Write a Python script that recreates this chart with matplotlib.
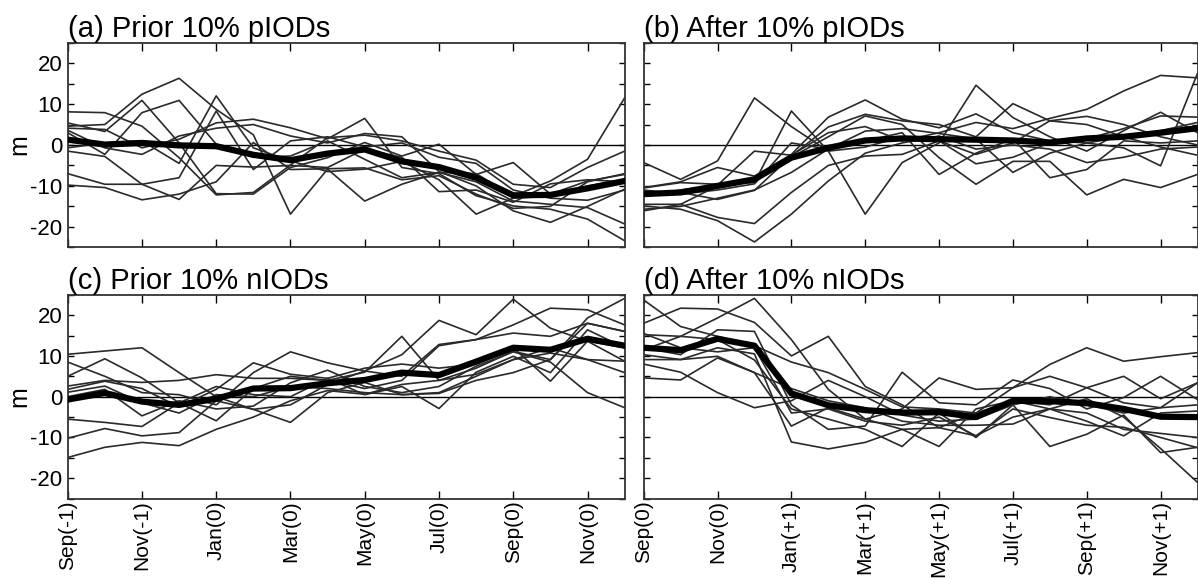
import matplotlib.pyplot as plt
import numpy as np
from matplotlib.ticker import MultipleLocator

plt.rcParams['font.family'] = ['Liberation Sans', 'DejaVu Sans']
plt.rcParams['axes.unicode_minus'] = False

months = np.arange(16)
tick_pos = [0, 2, 4, 6, 8, 10, 12, 14]
labels_prior = ['Sep(-1)', 'Nov(-1)', 'Jan(0)', 'Mar(0)', 'May(0)', 'Jul(0)', 'Sep(0)', 'Nov(0)']
labels_after = ['Sep(0)', 'Nov(0)', 'Jan(+1)', 'Mar(+1)', 'May(+1)', 'Jul(+1)', 'Sep(+1)', 'Nov(+1)']

# (a) months before the strongest positive IOD events
prior_p_events = [
    [8.1, 7.9, 4.6, -3.1, -12.2, -11.6, -4.9, 1.8, 2.4, 1.0, -1.5, -3.7, -9.6, -10.4, -5.5, -1.5],
    [5.4, 3.3, 10.9, 0.5, -11.9, -12.0, -5.5, -3.1, 0.6, -2.7, 0.2, -7.2, -4.3, -12.0, -8.8, -7.2],
    [4.6, 5.0, 12.4, 16.3, 8.7, 2.5, -16.9, -5.9, -13.7, -9.6, -6.7, -9.0, -13.7, -14.5, -15.3, -19.3],
    [4.1, 3.8, -0.7, 1.4, 5.4, 6.3, 4.2, 1.5, 6.5, -5.5, -7.0, -12.4, -14.9, -15.7, -18.1, -23.4],
    [3.6, -0.7, -2.3, 2.2, 4.1, 5.0, 2.2, 0.5, 2.8, 2.0, -6.5, -10.0, -16.1, -18.9, -15.0, -10.8],
    [3.0, -2.3, 7.9, 10.9, 0.2, -3.0, -2.7, 1.0, -3.5, -8.0, -6.7, -7.0, -12.5, -8.8, -3.5, 11.5],
    [-0.7, 0.5, 1.0, -4.5, 12.0, -0.7, -3.9, -6.5, -5.9, -4.0, -8.5, -16.9, -13.0, -12.5, -10.0, -8.5],
    [-1.5, -2.8, -9.6, -13.3, -5.0, -5.4, -5.0, -5.5, -1.0, -3.0, -11.4, -11.0, -14.0, -9.5, -8.5, -9.0],
    [-7.0, -9.6, -9.6, -8.0, 8.3, -6.0, 1.0, 2.0, -0.5, 0.5, -3.0, -4.5, -11.0, -13.0, -13.5, -11.0],
    [-9.8, -10.4, -13.4, -12.0, -9.0, 0.6, -6.0, -5.8, -5.6, -8.5, -7.5, -12.0, -15.5, -15.0, -9.0, -7.0],
]
prior_p_mean = [1.3, 0.1, 0.5, -0.1, -0.3, -2.4, -3.7, -2.1, -1.1, -4.0, -5.4, -8.0, -12.3, -12.2, -10.6, -8.8]

# (b) months after the strongest positive IOD events
after_p_events = [
    [-4.3, -8.4, -3.9, 11.5, 4.5, -1.5, -0.5, 2.0, 1.0, -2.3, 0.5, 5.9, 7.0, 5.0, 2.0, 0.0],
    [-10.5, -9.2, -9.6, -9.2, 8.3, -1.5, -16.9, -4.3, 0.5, 14.6, 6.7, 2.0, -1.5, 3.5, 8.0, 3.0],
    [-10.4, -9.0, -5.5, -7.6, -2.3, 6.8, 11.0, 6.3, 4.2, 7.6, 3.0, 1.0, 0.5, -0.7, -5.1, 17.5],
    [-11.5, -11.6, -13.3, -11.1, -2.7, 4.4, 7.5, 5.9, 5.0, 2.0, 10.1, 5.9, 5.0, 2.0, 3.5, 5.5],
    [-14.5, -14.5, -17.7, -19.2, -11.6, -5.0, -2.7, -2.3, 1.0, -4.6, -3.0, 0.5, 1.5, 4.0, 7.1, 6.8],
    [-14.9, -15.7, -18.5, -23.7, -16.9, -8.8, -2.0, 0.5, 2.2, -1.0, 0.0, -1.0, -4.3, -3.0, -1.0, -0.5],
    [-15.7, -15.0, -13.0, -11.0, -6.7, -1.0, 3.4, 4.0, 2.8, 1.5, -6.7, -2.0, 0.5, 2.0, -0.5, -2.5],
    [-16.1, -14.5, -10.0, -8.5, -3.0, 2.0, 7.1, 5.0, -3.1, -9.6, -4.0, -4.0, -12.2, -8.4, -10.4, -7.2],
    [-11.0, -12.0, -11.0, -9.5, 0.5, -1.0, 1.0, 3.0, -7.2, -2.0, 1.5, -8.0, -6.0, 1.0, 0.5, 1.0],
    [-12.5, -11.0, -9.8, -1.5, -2.5, 3.0, 4.5, 1.0, 3.0, 5.5, 4.0, 6.5, 8.7, 13.2, 17.0, 16.4],
]
after_p_mean = [-12.0, -11.6, -10.0, -8.4, -3.1, -0.7, 1.1, 1.6, 1.4, 1.3, 1.1, 0.6, 1.6, 2.0, 3.0, 4.1]

# (c) months before the strongest negative IOD events
prior_n_events = [
    [10.4, 11.2, 12.0, 5.9, 0.0, -3.1, -2.0, 3.0, 6.3, 10.3, 18.7, 15.2, 23.9, 16.8, 13.6, 8.7],
    [8.5, 5.0, 1.0, 0.5, -2.0, 5.9, 11.0, 8.3, 6.3, 5.0, 12.8, 14.0, 17.6, 21.7, 21.3, 17.6],
    [5.0, 9.3, 4.6, -1.5, -5.9, 2.0, 5.0, 4.0, 6.0, 14.8, 4.0, 7.0, 11.1, 9.1, 19.3, 24.1],
    [2.6, 4.0, 3.5, 4.0, 5.4, 4.5, 4.5, 4.0, 2.0, 4.0, 12.5, 14.0, 15.6, 14.8, 18.0, 16.0],
    [1.8, 3.8, 2.0, -2.5, 1.8, 8.3, 5.5, 4.5, 0.5, 2.5, -2.9, 6.0, 9.9, 5.9, 16.4, 12.0],
    [1.1, 2.6, -1.5, -4.0, 0.5, 0.0, 2.5, 2.0, 1.0, 0.5, 1.0, 5.0, 9.1, 10.7, 9.1, 5.9],
    [0.0, 1.8, -4.7, -1.0, -3.0, -2.3, 3.4, 6.5, 2.5, 1.0, 2.5, 7.5, 11.0, 8.5, 1.0, -2.7],
    [-5.5, -6.3, -7.3, -1.5, 2.5, 0.5, 0.0, 4.5, 7.0, 8.0, 7.0, 8.0, 12.0, 3.8, 13.6, 12.0],
    [-10.2, -7.8, -9.6, -8.8, -1.0, -3.1, -6.3, 1.0, 3.5, 0.5, 0.8, 4.0, 5.9, 9.1, 18.0, 16.0],
    [-14.9, -12.4, -11.2, -12.0, -8.0, -5.0, -1.0, 1.5, 0.6, 3.0, 4.0, 5.5, 9.1, 12.0, 9.1, 8.7],
]
prior_n_mean = [-0.7, 0.9, -1.2, -2.0, -0.5, 2.0, 2.1, 3.3, 4.1, 5.9, 5.3, 8.6, 12.0, 11.5, 14.2, 12.5]

# (d) months after the strongest negative IOD events
after_n_events = [
    [23.7, 17.2, 14.8, 12.5, 8.5, 5.9, 1.8, -2.5, -3.0, -4.0, 2.2, 7.9, 12.0, 8.7, 9.8, 10.8],
    [18.0, 21.7, 21.5, 18.2, 10.0, 14.8, 2.5, -2.0, -7.6, -9.6, -5.0, -3.0, -0.5, -5.0, -12.7, -21.0],
    [15.2, 14.8, 19.3, 24.1, 14.0, 1.8, -5.5, -8.0, -12.2, -3.0, -1.0, -2.0, 2.2, 5.0, -0.5, 3.4],
    [12.0, 10.3, 16.4, 16.0, -2.0, -8.0, -7.2, 6.0, -1.5, -2.0, 4.1, 2.0, -3.0, -0.2, 5.0, -0.7],
    [10.3, 9.1, 9.9, 5.9, -7.2, -2.7, -5.5, -3.0, 4.6, 1.8, 2.2, 5.0, 2.2, -1.5, -2.7, 3.4],
    [9.1, 9.1, 12.0, 10.5, -11.1, -12.8, -11.2, -8.0, -7.6, -4.0, -1.0, -3.0, -6.0, -9.6, -4.0, -3.5],
    [11.5, 14.8, 14.0, 9.0, -3.0, -5.5, -8.0, -12.2, -4.0, -10.0, -2.0, -12.2, -9.2, -4.5, -13.7, -12.4],
    [4.6, 4.1, 9.5, 5.9, 2.0, -1.0, -2.7, -6.0, -7.0, -7.0, -6.7, -3.0, -4.0, -8.0, -9.0, -10.0],
    [15.5, 12.0, 11.0, 12.0, -4.0, -3.0, -6.0, -7.0, -5.0, -9.6, -3.0, -5.1, -7.0, -7.5, -10.0, -12.5],
    [8.0, 6.0, 1.0, -2.7, -1.0, 4.0, 0.0, -4.5, -6.0, -5.5, -2.0, 0.0, -2.0, -4.0, -2.7, -2.0],
]
after_n_mean = [12.0, 11.4, 14.2, 12.5, 0.8, -2.1, -3.3, -3.9, -3.8, -5.0, -1.0, -1.1, -1.6, -3.0, -4.9, -5.0]


def draw_panel(ax, events, mean, title, xlabels, left_col):
    ax.axhline(0, color='black', lw=1.0, zorder=1)
    for ev in events:
        ax.plot(months, ev, color='#2a2a2a', lw=1.2, zorder=2)
    ax.plot(months, mean, color='black', lw=4.5, zorder=3)

    ax.set_xlim(0, 15)
    ax.set_ylim(-25, 25)
    ax.set_xticks(tick_pos)
    if xlabels is None:
        ax.set_xticklabels([])
    else:
        ax.set_xticklabels(xlabels, rotation=90, fontsize=15)
    ax.set_yticks([-20, -10, 0, 10, 20])
    ax.yaxis.set_minor_locator(MultipleLocator(5))
    if left_col:
        ax.set_yticklabels(['-20', '-10', '0', '10', '20'], fontsize=16)
        ax.text(-0.087, 0.5, 'm', transform=ax.transAxes, rotation=90,
                ha='center', va='center', fontsize=18)
    else:
        ax.set_yticklabels([])

    ax.tick_params(axis='x', which='both', direction='in', top=True,
                   bottom=True, length=6, width=1.0, pad=1)
    ax.tick_params(axis='y', which='both', direction='in', left=True,
                   right=True, length=4, width=1.0, pad=4)
    for sp in ax.spines.values():
        sp.set_linewidth(1.3)
        sp.set_color('#333333')
    ax.set_title(title, loc='left', fontsize=21, pad=3)


fig = plt.figure(figsize=(11.98, 5.79), dpi=100)
ax_a = fig.add_axes([0.0565, 0.5729, 0.4649, 0.3534])
ax_b = fig.add_axes([0.5373, 0.5729, 0.4623, 0.3534])
ax_c = fig.add_axes([0.0565, 0.1387, 0.4649, 0.3523])
ax_d = fig.add_axes([0.5373, 0.1387, 0.4623, 0.3523])

draw_panel(ax_a, prior_p_events, prior_p_mean, '(a) Prior 10% pIODs', None, True)
draw_panel(ax_b, after_p_events, after_p_mean, '(b) After 10% pIODs', None, False)
draw_panel(ax_c, prior_n_events, prior_n_mean, '(c) Prior 10% nIODs', labels_prior, True)
draw_panel(ax_d, after_n_events, after_n_mean, '(d) After 10% nIODs', labels_after, False)

fig.savefig('out.png', dpi=100)
